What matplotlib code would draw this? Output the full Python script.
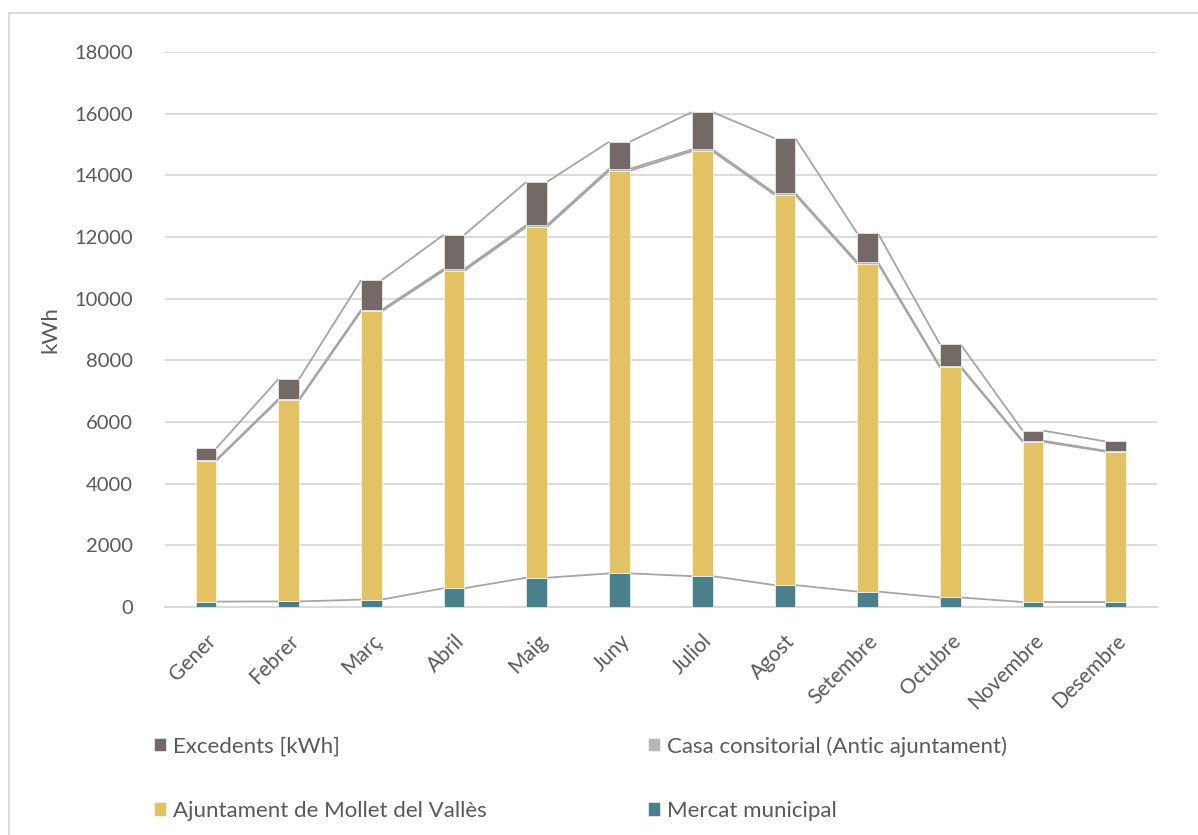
import matplotlib
matplotlib.use("Agg")
import matplotlib.pyplot as plt
from matplotlib.lines import Line2D
import numpy as np

months = ["Gener", "Febrer", "Març", "Abril", "Maig", "Juny",
          "Juliol", "Agost", "Setembre", "Octubre", "Novembre", "Desembre"]

mercat = [175, 180, 240, 610, 950, 1090, 1000, 710, 500, 310, 160, 160]
ajuntament = [4570, 6520, 9350, 10300, 11380, 13060, 13780, 12660, 10640, 7460, 5200, 4880]
casa = [35, 45, 50, 55, 60, 60, 60, 55, 50, 40, 30, 30]
excedents = [370, 650, 960, 1110, 1400, 880, 1210, 1780, 930, 710, 330, 300]

series = [
    ("Mercat municipal", mercat, "#4A808B"),
    ("Ajuntament de Mollet del Vallès", ajuntament, "#E3C264"),
    ("Casa consitorial (Antic ajuntament)", casa, "#BAB5B5"),
    ("Excedents [kWh]", excedents, "#736A67"),
]

yticks = [0, 2000, 4000, 6000, 8000, 10000, 12000, 14000, 16000, 18000]

plt.rcParams["font.family"] = ["Lato", "DejaVu Sans"]
text_color = "#595959"
grid_color = "#D9D9D9"
line_color = "#A5A5A5"

W, H = 1198, 835
fig = plt.figure(figsize=(W / 100, H / 100), dpi=100)
ax = fig.add_axes([164.7 / W, 1 - 607 / H, (1157 - 164.7) / W, (607 - 52) / H])

x = np.arange(len(months))
width = 0.25
bottom = np.zeros(len(months))
handles = {}
tops = []
for name, vals, color in series:
    vals = np.asarray(vals, dtype=float)
    b = ax.bar(x, vals, width, bottom=bottom, color=color, edgecolor="white",
               linewidth=0.4, zorder=3, label=name)
    handles[name] = b
    bottom = bottom + vals
    tops.append(bottom.copy())

# series lines joining the top of each segment between neighbouring bars
for top in tops:
    for i in range(len(months) - 1):
        ax.plot([x[i] + width / 2, x[i + 1] - width / 2], [top[i], top[i + 1]],
                color=line_color, linewidth=1.3, zorder=2, solid_capstyle="butt")

ax.set_xlim(-0.5, len(months) - 0.5)
ax.set_ylim(0, 18000)
ax.set_yticks(yticks)
ax.set_yticklabels([str(v) for v in yticks])
ax.yaxis.grid(True, color=grid_color, linewidth=1.3, zorder=0)
ax.set_axisbelow(True)
for s in ["top", "right", "left"]:
    ax.spines[s].set_visible(False)
ax.spines["bottom"].set_color(grid_color)
ax.spines["bottom"].set_linewidth(1.5)
ax.tick_params(axis="y", length=0, pad=23, labelsize=14.5, labelcolor=text_color)
ax.tick_params(axis="x", length=0, pad=17, labelsize=15, labelcolor=text_color)
ax.set_xticks(x)
ax.set_xticklabels(months, rotation=45, ha="right", rotation_mode="anchor")

ax.set_ylabel("kWh", fontsize=16, color=text_color)
ax.yaxis.set_label_coords((60 - 164.7) / (1157 - 164.7), 0.5)

order = ["Excedents [kWh]", "Ajuntament de Mollet del Vallès",
         "Casa consitorial (Antic ajuntament)", "Mercat municipal"]
leg = fig.legend([handles[n] for n in order], order, ncol=2, frameon=False,
                 loc="upper left", bbox_to_anchor=(134 / W, 1 - 716 / H),
                 fontsize=16, handlelength=0.55, handleheight=0.55,
                 handletextpad=0.3, columnspacing=7.25, labelspacing=2.0,
                 labelcolor=text_color)

# chart area border (top and left edges)
border_kw = dict(transform=fig.transFigure, color="#D9D9D9", linewidth=1.5)
fig.add_artist(Line2D([8.5 / W, 1.0], [1 - 13 / H, 1 - 13 / H], **border_kw))
fig.add_artist(Line2D([8.5 / W, 8.5 / W], [0.0, 1 - 13 / H], **border_kw))

fig.savefig("out.png", dpi=100)
